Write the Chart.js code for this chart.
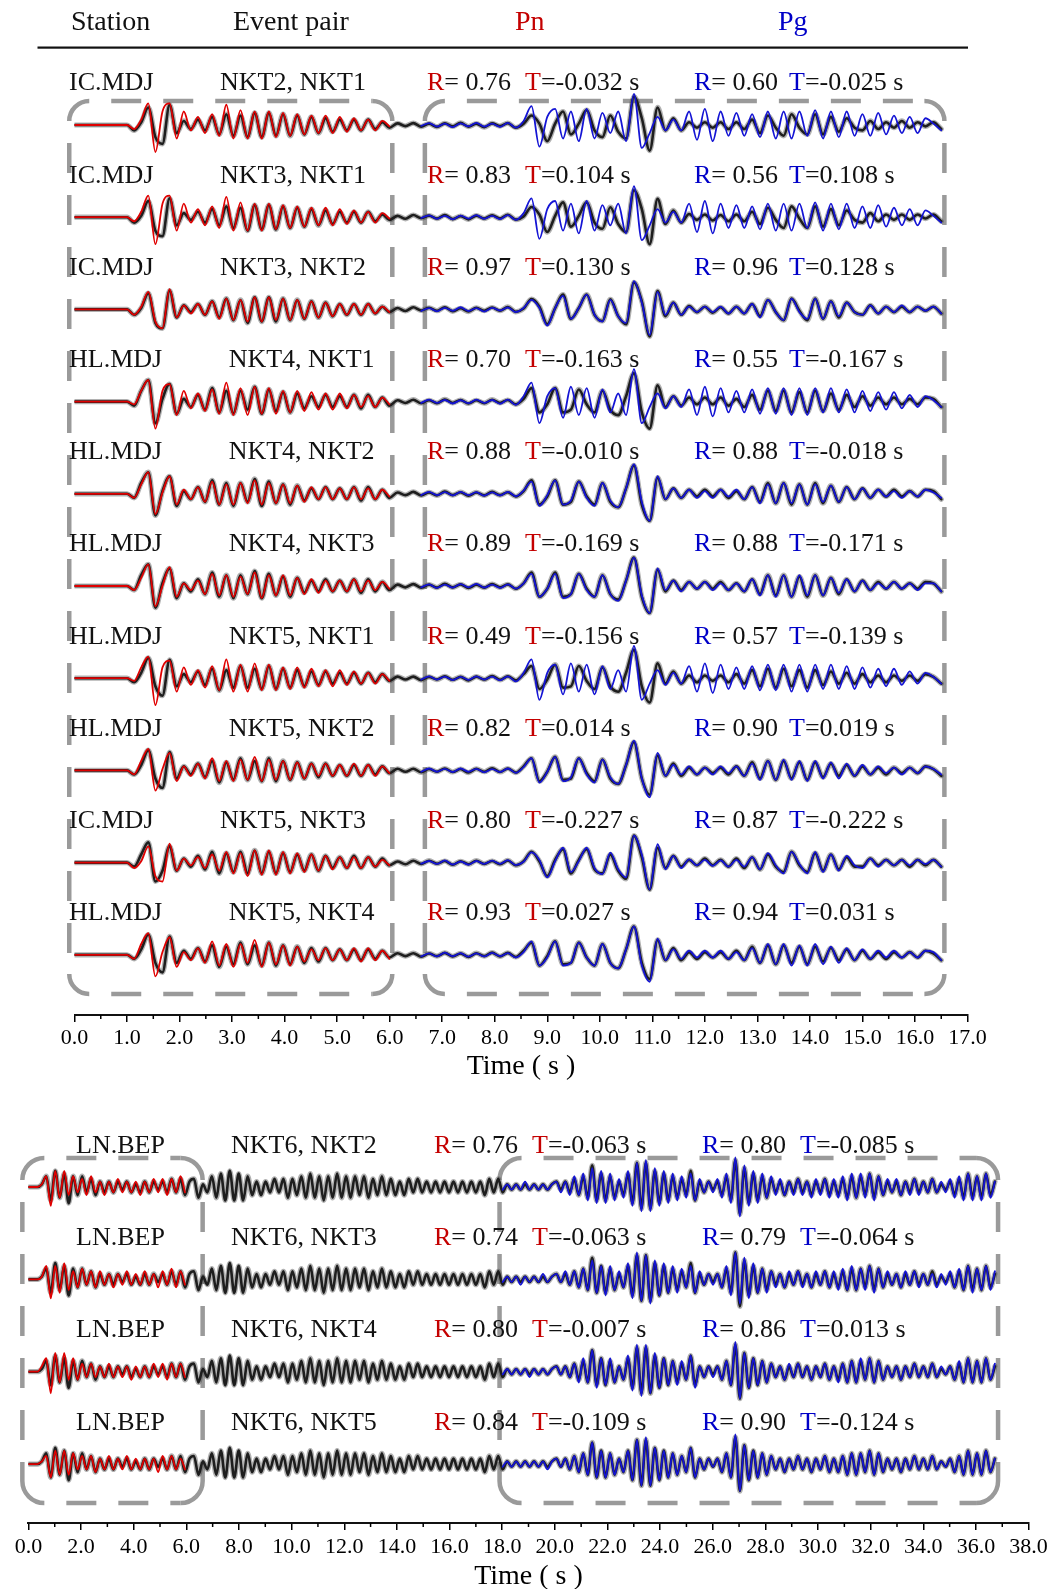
<!DOCTYPE html>
<html><head><meta charset="utf-8">
<script src="https://cdn.jsdelivr.net/npm/chart.js@4.4.1/dist/chart.umd.min.js"></script>
<style>
html,body{margin:0;padding:0;background:#fff;}
body{width:1063px;height:1589px;position:relative;overflow:hidden;}
#top{position:absolute;left:0;top:0;width:1063px;height:1085px;}
#bot{position:absolute;left:0;top:1095px;width:1063px;height:494px;}
</style></head><body>
<canvas id="top" width="1063" height="1085"></canvas>
<canvas id="bot" width="1063" height="494"></canvas>
<script>
// ---------------- DATA: top panel (MDJ) ----------------
const TOP_STATIONS = ['IC.MDJ','IC.MDJ','IC.MDJ','HL.MDJ','HL.MDJ','HL.MDJ','HL.MDJ','HL.MDJ','IC.MDJ','HL.MDJ'];
const TOP_PAIRS = ['NKT2, NKT1','NKT3, NKT1','NKT3, NKT2','NKT4, NKT1','NKT4, NKT2','NKT4, NKT3','NKT5, NKT1','NKT5, NKT2','NKT5, NKT3','NKT5, NKT4'];
const TOP_PN_R = ['0.76','0.83','0.97','0.70','0.88','0.89','0.49','0.82','0.80','0.93'];
const TOP_PN_T = ['-0.032','0.104','0.130','-0.163','-0.010','-0.169','-0.156','0.014','-0.227','0.027'];
const TOP_PG_R = ['0.60','0.56','0.96','0.55','0.88','0.88','0.57','0.90','0.87','0.94'];
const TOP_PG_T = ['-0.025','0.108','0.128','-0.167','-0.018','-0.171','-0.139','0.019','-0.222','0.031'];
// which record is drawn black (first event) and coloured (second event) in each row
const TOP_BLACK = ['NKT2_IC','NKT3_IC','NKT3_IC','NKT4_HL','NKT4_HL','NKT4_HL','NKT5_HL','NKT5_HL','NKT5_IC','NKT5_HL'];
const TOP_COLOR = ['NKT1_IC','NKT1_IC','NKT2_IC','NKT1_HL','NKT2_HL','NKT3_HL','NKT1_HL','NKT2_HL','NKT3_IC','NKT4_HL'];
const TOP_TICKS = [0,1,2,3,4,5,6,7,8,9,10,11,12,13,14,15,16,17];

// sampling of the top records (s): one sample at 0, Pn part from 1.0 s, Pg part from 6.15 s
const TOP_PN_START = 1.0, TOP_PN_STEP = 0.135, TOP_PN_N = 38;
const TOP_PG_START = 6.15, TOP_PG_STEP = 0.15, TOP_PG_N = 70;

// amplitudes (relative units): Pn part (39) and Pg part (70)
const NKT1_IC_PN = [0, 0,-1.5,2,8,-10,5,8,-5,5,-2, 3,-3,4,-4,7.5,-5,5.5,-5,5,-5, 5,-4.5,4.5,-4,4,-3.5,3.5,-3,3.5,-3, 3,-2.5,2.5,-2,2,-2,1.5,-0.5];
const NKT1_IC_PG = [0.5,-0.5,0.6,-0.3,0.7,-0.6,0.5,-0.8,0.6,-0.5, 0.8,-0.6,0.5,-0.7,0.8,-1,1.5,7,-8,3, 6,-5,5,-6,6,-5,4.5,-3,5,-6, 11.5,-8.5,-3,3,-2,2, -2,5,-5.5,6,-6,5,-4,4.5,-4,4, -4.5,5,-5,5,-5,5,-4,5.5,-5,5, -4.5,5,-4,4,-4,4.5,-3.5,3.5,-3,3, -3,2.5,0.5,-2];
const NKT1_HL_PN = [0, 0,-1,4,8,-10,4,6.5,-5,4,-2.5, 3,-3.5,4.5,-4.5,7,-5,5,-5,5.5,-4.5, 5,-4.5,4,-4,4,-3.5,3.5,-3,3,-3, 3,-2.5,2.5,-2,2,-2,1.5,-1];
const NKT1_HL_PG = [0.6,-0.4,0.5,-0.5,0.7,-0.5,0.6,-0.7,0.5,-0.6, 0.7,-0.5,0.6,-0.8,0.7,-1.2,2,7,-8,2, 5,-6,5.5,-5,5,-6,4.5,-4,3,-5, 12,-8,-2,3,-2.5,2, -2,4.5,-5,5.5, -5.5,5,-4,4,-4,4.5,-4.5,5,-4.5,5, -5,5,-5,5,-4,5,-4,4.5,-4,4, -3.5,3.5,-3,3.5,-2.5,2.5,-2,2,0.5,-2];
const NKT2_IC_PN = [0, 0,-2,1,6.5,-4.5,-7,7.5,-3,1.5,-1.5, 2,-2,3,-3.5,4,-4,3.5,-4.5,4.5,-4.5, 4.5,-4,4,-4,3.5,-3.5,3,-3,2.5,-2.5, 2,-2,2,-2,2,-1.5,1,-1];
const NKT2_IC_PG = [0.6,-0.4,0.7,-0.6,0.5,-0.7,0.6,-0.5,0.8,-0.6, 0.5,-0.8,0.6,-0.4,0.7,-1,0.5,3.5,0.5,-6, 0.5,5,-3.5,0.5,5.5,-2,-4.5,3.5,-2.5,-5, 10.5,2.5,-9.5,6.5,-2,2.5,-2,1,-1,1, -1,1,-1.5,1,-1.5,2,-3,3.5,-1,-4, 4,-1,-3.5,4,-3.5,3,-2.5,2.5,-1,-2, 1.5,-1.5,1,-1,1.5,-1,1,-0.5,1,-1.5];
const NKT2_HL_PN = [0, 0,-1.5,3.5,8,-7.5,0.5,6.5,-4,1.5,-2, 2.5,-3,4.5,-4,3.5,-4,4,-3.5,5,-4, 4,-3.5,3.5,-3.5,3,-3,2.5,-2,2.5,-2, 2,-2,2.5,-2,2,-2,1.5,-1];
const NKT2_HL_PG = [0.5,-0.6,0.6,-0.5,0.7,-0.5,0.6,-0.6,0.7,-0.5, 0.6,-0.7,0.5,-0.6,0.7,-0.9,1.2,4.5,-4.5,-0.5, 5,-4,-2.5,4.5,-1.5,-4.5,4,-2.5,-5,2, 11,-3,-10,6.5,-2,2,-1.5,1.5,-1.5,1, -1.5,1.5,-1,1.5,-2,2.5,-3.5,3.5,-3.5,4, -3.5,3.5,-4,3.5,-3,3,-3,2.5,-2,2, -1.5,1.5,-1,1,-1.5,1,-1,1.5,0.5,-1.5];
const NKT3_IC_PN = [0, 0,-2,0.5,6,-5,-7,7,-3,1.5,-1, 2,-2,3,-3,4,-4,3.5,-5,4.5,-4.5, 4.5,-4.5,4,-4,3.5,-3.5,3,-3,2.5,-2.5, 2,-2,2,-2,2,-1.5,1,-1];
const NKT3_IC_PG = [0.5,-0.6,0.8,-0.4,0.6,-0.5,0.8,-0.7,0.4,-0.8, 0.6,-0.5,0.7,-0.5,0.9,-0.9,0.3,3.8,1,-5.5, 0.5,5.5,-3.5,0.5,5.5,-2,-4.3,3.7,-2.5,-5.5, 10,3,-10,6.8,-2.5,2.5,-2,1.2,-1,1, -1.2,0.8,-1.5,1,-1.5,2,-2.5,3.5,-1,-4, 4,-0.5,-4,4,-3.5,3,-3,2.5,-1,-2, 1.5,-1.5,1,-1,1,-1,1,-0.5,1,-1.5];
const NKT3_HL_PN = [0, 0,-1.5,3,8,-7.5,0,7,-4,1,-1.5, 2,-3,4.5,-3.5,4,-4,3.5,-3,5,-4.5, 4,-3.5,4,-3.5,3,-3,2.5,-2.5,2,-2, 2,-2,2.5,-2,2,-1.5,1.5,-1];
const NKT3_HL_PG = [0.5,-0.7,0.6,-0.5,0.6,-0.7,0.5,-0.6,0.7,-0.5, 0.8,-0.6,0.5,-0.7,0.6,-1,1,4.5,-4,-1, 4.5,-4.5,-3,4.5,-1.5,-4,4,-3,-5.5,2, 10.5,-3.5,-10,6.5,-1.5,2,-2,1.5,-1,1.5, -1.5,1,-1.5,1,-2,2.5,-3.5,4,-4,4, -4,4,-3.5,4,-3.5,3,-2.5,2.5,-2,2, -1.5,1,-1,1.5,-1,1,-1.5,1,1,-2];
const NKT4_HL_PN = [0, 0,-1.5,4,8,-8,1,6.5,-4.5,1,-2, 2.5,-3,5,-4,4,-4.5,4,-3,5.5,-4.5, 4.5,-3.5,3.5,-4,3,-2.5,2,-2,2.5,-2, 2,-2,2.5,-2.5,2.5,-2,1.5,-1.5];
const NKT4_HL_PG = [0.5,-0.5,0.7,-0.6,0.5,-0.6,0.8,-0.5,0.6,-0.7, 0.5,-0.6,0.7,-0.5,0.6,-1,1,5,-4,-1, 5,-4,-3,4.5,-1,-4,4,-3,-5,2, 10.5,-4,-10,6,-2,2,-1.5,1.5,-1,1.5, -1,1.5,-1.5,1,-2,2.5,-3,4,-3.5,4, -4,3.5,-4,4,-3.5,3,-3,2.5,-2,2, -1.5,1.5,-1,1.5,-1,1,-1,1.5,1,-2];
const NKT5_HL_PN = [0, 0,-1.5,2,7.5,-3,-6.5,6.8,-3,1.5,-1.5, 2.5,-2.5,3.5,-4.5,3,-3.5,4.5,-3.5,3.5,-4, 4.5,-4,3.5,-3.5,3,-3,2.5,-2.5,2.5,-2, 2,-2,2,-2,2,-1.5,1.5,-1];
const NKT5_HL_PG = [0.6,-0.5,0.6,-0.7,0.5,-0.5,0.7,-0.6,0.5,-0.8, 0.6,-0.5,0.8,-0.6,0.7,-0.8,1.5,4.5,-4,-0.5, 5,-3.5,-3,4.5,-1,-4, 4,-3,-5,2,10.5,-3,-9,5.5, -2,2.5,-2,1,-1.5,1, -1,1,-1.5,1.5,-2,3,-3,3.5,-3.5,3.5, -3,3,-3.5,3,-2.5,2.5,-2,2,-2,1.5, -1.5,1,-1.5,1,-1,1,-1,1.5,0.5,-2];
const NKT5_IC_PN = [0, 0,-1.5,3,7.5,-7,-3,6,-3,1.5,-1.5, 2.5,-2.5,4,-4,3.5,-3.5,4,-4,4.5,-4, 4,-4,3.5,-3.5,3,-3,3,-3,2.5,-2, 2,-2,2.5,-2,2,-1.5,1.5,-1];
const NKT5_IC_PG = [0.4,-0.6,0.7,-0.5,0.7,-0.4,0.6,-0.8,0.5,-0.6, 0.7,-0.5,0.6,-0.6,0.8,-1, 0.5,4,0.5,-5, 1,5,-4,1,5,-2.5,-4,3,-3,-6, 10,2,-10,5.5, -2,2.5,-1.5,1,-1,1.5, -1,1,-1.5,1.5,-2,2,-2.5,3,-1.5,-3.5, 4,-1,-3.5,3.5,-3,3,-2.5,2,-1.5,-1.5, 1.5,-1,1,-1,1,-1.5,1,-1,1,-1.5];

// ---------------- DATA: bottom panel (LN.BEP) ----------------
const BOT_STATIONS = ['LN.BEP','LN.BEP','LN.BEP','LN.BEP'];
const BOT_PAIRS = ['NKT6, NKT2','NKT6, NKT3','NKT6, NKT4','NKT6, NKT5'];
const BOT_PN_R = ['0.76','0.74','0.80','0.84'];
const BOT_PN_T = ['-0.063','-0.063','-0.007','-0.109'];
const BOT_PG_R = ['0.80','0.79','0.86','0.90'];
const BOT_PG_T = ['-0.085','-0.064','0.013','-0.124'];
const BOT_TICKS = [0,2,4,6,8,10,12,14,16,18,20,22,24,26,28,30,32,34,36,38];
const BOT_STEP = 0.17, BOT_N = 217;
// NKT6 (black, shared by all rows), 217 samples
const BEP_NKT6 = [0,0,0,1,4,-5,6,-4,5,-6, 4,-3,4,-2,3,-3,2,-2,2,-2, 2,-1,2,-2,1,-2,2,-2,2,-1, 2,-2,3,-2,3,-3,
 2,3,-4,1, -2,4,-4,5,-5,6,-5,5,-5,4, -3,2,-3,2,-2,3,-2,3,-4,3, -3,4,-4,5,-4,4,-5,4,-4,5, -4,4,-4,4,-3,4,-4,3,-3,4, -3,3,-3,2,-3,3,-2,3,-2,2, -2,2,-2,2,-2,2,-2,2,-2,2, -2,2,-3,3,-2,3,
 -2,1,-1,1,-1,1,-1,1,-1,1,-1,1, 2,-1,2,-2,3,-3,4,-4,8,-5, 5,-5,4,-4,2,-3,5,-6,9,-8, 9,-8,6,-6,5,-5,4,-4,3,-3, 6,-5,2,-2,2,-1,2,-3,4,-5, 10,-10,7,-6,5,-5,4,-4,3,-2, 2,-3,2,-2,3,-2,2,-3,2,-2, 3,-3,2,-3,3,-4,4,-4,4,-3, 5,-4,4,-3,2,-2,2,-3,2,-2, 3,-2,2,-2,3,-2,1,-1,2,-3, 3,-4,5,-4,4,-4,5,-3,2];
// coloured records: Pn window (first 36 samples) and Pg window (samples from 18.0 s, 111 values)
const BEP_PN_NKT2 = [0,0,0,1,4,-7,6,-4,6,-3, 4,-2,3,-3,4,-2,2,-3,2,-2, 3,-2,2,-2,2,-3,2,-2,3,-2, 3,-3,3,-2,4,-2];
const BEP_PN_NKT3 = [0,0,0,1,5,-7,5,-5,6,-4, 3,-3,4,-2,3,-3,3,-2,2,-3, 2,-2,3,-2,2,-2,3,-2,2,-3, 3,-2,4,-3,3,-2];
const BEP_PN_NKT4 = [0,0,0,2,5,-8,7,-4,7,-3, 5,-3,3,-2,3,-2,2,-2,3,-2, 2,-2,2,-3,2,-2,2,-2,3,-2, 3,-3,3,-2,3,-2];
const BEP_PN_NKT5 = [0,0,0,1,3,-5,5,-4,5,-4, 4,-2,3,-2,3,-3,2,-2,3,-2, 2,-2,3,-2,2,-2,2,-2,2,-3, 3,-2,3,-2,2,-2];
const BEP_PG_NKT2 = [-1,1,-1,1,-1,2,-1,1,-1,1,-1,1, 2,-2,2,-3,4,-3,5,-5,7,-6, 6,-6,5,-5,3,-4,6,-7,9,-9, 10,-9,7,-7,6,-6,5,-5,4,-4, 5,-5,3,-2,2,-2,3,-4,5,-6, 11,-11,8,-7,6,-6,5,-4,4,-3, 3,-3,2,-3,3,-3,2,-4,3,-3, 3,-4,3,-4,4,-5,5,-4,5,-4, 5,-5,4,-3,3,-2,3,-3,2,-3, 3,-3,2,-2,3,-2,2,-2,3,-4, 4,-5,5,-5,4,-5,5,-4,2];
const BEP_PG_NKT3 = [-1,1,-1,1,-2,1,-1,1,-1,2,-1,1, 2,-1,3,-2,3,-3,4,-4,7,-5, 5,-6,5,-4,3,-3,6,-7,10,-8, 9,-9,7,-6,6,-5,5,-5,4,-3, 5,-5,3,-2,2,-2,2,-3,5,-6, 10,-9,8,-7,6,-5,4,-5,3,-3, 2,-3,3,-2,3,-3,2,-3,3,-2, 3,-3,3,-4,4,-4,5,-4,4,-4, 5,-5,4,-3,3,-2,2,-3,3,-2, 3,-3,2,-2,2,-3,2,-2,3,-3, 4,-4,5,-5,4,-4,5,-4,3];
const BEP_PG_NKT4 = [-1,1,-1,1,-1,1,-2,1,-1,1,-1,1, 2,-1,2,-2,3,-4,5,-4,8,-6, 5,-5,5,-4,2,-3,6,-7,10,-9, 10,-8,7,-6,5,-5,4,-5,4,-3, 6,-6,2,-2,2,-2,2,-3,4,-5, 11,-10,7,-6,5,-5,4,-4,3,-2, 2,-3,3,-2,3,-2,2,-3,2,-2, 3,-3,2,-4,3,-4,4,-4,5,-3, 5,-4,4,-3,2,-2,2,-3,2,-2, 3,-2,2,-2,3,-2,2,-1,2,-3, 4,-4,5,-4,4,-4,5,-3,3];
const BEP_PG_NKT5 = [-1,1,-1,1,-1,1,-1,1,-1,1,-2,1, 2,-1,2,-2,3,-3,4,-4,8,-5, 5,-5,4,-4,2,-3,5,-6,9,-8, 10,-8,6,-6,5,-5,4,-4,3,-3, 6,-5,2,-2,2,-1,2,-3,4,-5, 11,-10,7,-6,5,-5,4,-4,3,-2, 2,-3,2,-2,3,-2,2,-3,2,-2, 3,-3,2,-3,3,-4,4,-4,4,-3, 5,-4,4,-3,2,-2,2,-3,2,-2, 3,-2,2,-2,3,-2,1,-1,2,-3, 3,-4,5,-4,4,-4,5,-3,2];
const BOT_RED = [BEP_PN_NKT2, BEP_PN_NKT3, BEP_PN_NKT4, BEP_PN_NKT5];
const BOT_BLUE = [BEP_PG_NKT2, BEP_PG_NKT3, BEP_PG_NKT4, BEP_PG_NKT5];

// ---------------- styling / layout ----------------
const FONT = '"Liberation Serif","Times New Roman",Times,serif';
const RED_TXT = '#c40000', BLUE_TXT = '#0000c8', TXT = '#111';
const RED_LINE = '#e00000', BLUE_LINE = '#1414d4', BLACK_LINE = '#1e1e1e', HALO = 'rgba(70,70,70,0.42)';
const BOX_COLOR = '#9a9a9a', BOX_LW = 4.5, DASH = [30, 22];
const AMP_PX = 2.7;

const WAVES_TOP = {
  NKT1_IC: [NKT1_IC_PN, NKT1_IC_PG], NKT1_HL: [NKT1_HL_PN, NKT1_HL_PG],
  NKT2_IC: [NKT2_IC_PN, NKT2_IC_PG], NKT2_HL: [NKT2_HL_PN, NKT2_HL_PG],
  NKT3_IC: [NKT3_IC_PN, NKT3_IC_PG], NKT3_HL: [NKT3_HL_PN, NKT3_HL_PG],
  NKT4_HL: [NKT4_HL_PN, NKT4_HL_PG], NKT5_HL: [NKT5_HL_PN, NKT5_HL_PG],
  NKT5_IC: [NKT5_IC_PN, NKT5_IC_PG]
};
const TOP_T = [0];
for (let k = 0; k < TOP_PN_N; k++) TOP_T.push(+(TOP_PN_START + k * TOP_PN_STEP).toFixed(4));
for (let k = 0; k < TOP_PG_N; k++) TOP_T.push(+(TOP_PG_START + k * TOP_PG_STEP).toFixed(4));
const BOT_T = [];
for (let k = 0; k < BOT_N; k++) BOT_T.push(+(k * BOT_STEP).toFixed(4));

const TOP_ROW = 92.2, TOP_TEXT_RISE = 34.6;
const BOT_ROW = 92.35, BOT_TEXT_RISE = 34.3;
const TOP_BOXES = [[-0.1, 6.05, 24, -869], [6.67, 16.56, 24, -869]];
const BOT_BOXES = [[-0.23, 6.62, 29, -316], [17.9, 36.84, 29, -316]];

Chart.defaults.font.family = FONT;
Chart.defaults.color = '#000';

function pts(times, vals, off, tmin, tmax) {
  const out = [];
  const n = Math.min(times.length, vals.length);
  for (let k = 0; k < n; k++) {
    const t = times[k];
    if (t < tmin - 1e-9 || t > tmax + 1e-9) continue;
    out.push({x: t, y: vals[k] * AMP_PX - off});
  }
  return out;
}
function lineDs(data, color, width, order) {
  return {data: data, borderColor: color, borderWidth: width, order: order};
}

function drawBox(ctx, xs, ys, b, r) {
  const x0 = xs.getPixelForValue(b[0]), x1 = xs.getPixelForValue(b[1]);
  const y0 = ys.getPixelForValue(b[2]), y1 = ys.getPixelForValue(b[3]);
  ctx.save();
  ctx.strokeStyle = BOX_COLOR; ctx.lineWidth = BOX_LW; ctx.lineCap = 'butt';
  ctx.setLineDash([]);
  ctx.beginPath();
  ctx.arc(x0 + r, y0 + r, r, Math.PI, 1.5 * Math.PI);
  ctx.moveTo(x1 - r, y0); ctx.arc(x1 - r, y0 + r, r, 1.5 * Math.PI, 2 * Math.PI);
  ctx.moveTo(x1, y1 - r); ctx.arc(x1 - r, y1 - r, r, 0, 0.5 * Math.PI);
  ctx.moveTo(x0 + r, y1); ctx.arc(x0 + r, y1 - r, r, 0.5 * Math.PI, Math.PI);
  ctx.stroke();
  ctx.setLineDash(DASH); ctx.lineDashOffset = DASH[0];
  const seg = (ax, ay, bx, by) => { ctx.beginPath(); ctx.moveTo(ax, ay); ctx.lineTo(bx, by); ctx.stroke(); };
  seg(x0 + r, y0, x1 - r, y0);
  seg(x1, y0 + r, x1, y1 - r);
  seg(x0 + r, y1, x1 - r, y1);
  seg(x0, y0 + r, x0, y1 - r);
  ctx.restore();
}
function colorPair(ctx, x, y, letter, rest, col) {
  ctx.fillStyle = col; ctx.fillText(letter, x, y);
  const w = ctx.measureText(letter).width;
  ctx.fillStyle = TXT; ctx.fillText(rest, x + w, y);
}
function drawRowText(ctx, y, pos, station, pair, rPn, tPn, rPg, tPg) {
  ctx.save();
  ctx.font = '26px ' + FONT; ctx.textBaseline = 'alphabetic'; ctx.textAlign = 'left';
  ctx.fillStyle = TXT;
  ctx.fillText(station, pos.station, y);
  const px = pos.pair !== undefined ? pos.pair : pos.station + ctx.measureText(station).width + pos.gap;
  ctx.fillText(pair, px, y);
  colorPair(ctx, pos.pnR, y, 'R', '= ' + rPn, RED_TXT);
  colorPair(ctx, pos.pnT, y, 'T', '=' + tPn + ' s', RED_TXT);
  colorPair(ctx, pos.pgR, y, 'R', '= ' + rPg, BLUE_TXT);
  colorPair(ctx, pos.pgT, y, 'T', '=' + tPg + ' s', BLUE_TXT);
  ctx.restore();
}
function minorTicks(ctx, xs, vals) {
  const y0 = xs.top;
  ctx.save(); ctx.strokeStyle = '#000'; ctx.lineWidth = 1.5;
  vals.forEach(v => { const x = xs.getPixelForValue(v); ctx.beginPath(); ctx.moveTo(x, y0); ctx.lineTo(x, y0 + 4); ctx.stroke(); });
  ctx.restore();
}
function xAxis(min, max, step, ticksPad, titlePadBottom, titleLH, height) {
  return {
    type: 'linear', position: 'bottom', min: min, max: max,
    ticks: {stepSize: step, autoSkip: false, maxRotation: 0, padding: ticksPad, color: '#000',
            font: {family: FONT, size: 22}, callback: v => Number(v).toFixed(1)},
    grid: {display: true, drawOnChartArea: false, drawTicks: true, tickLength: 7, color: '#000', lineWidth: 1.5},
    border: {display: true, color: '#111', width: 2},
    title: {display: true, text: 'Time ( s )', color: '#000', font: {family: FONT, size: 28, lineHeight: titleLH},
            padding: {top: 0, bottom: titlePadBottom}},
    afterFit: s => { s.height = height; }
  };
}
const commonOpts = {
  responsive: false, animation: false, devicePixelRatio: 1, maintainAspectRatio: false,
  plugins: {legend: {display: false}, tooltip: {enabled: false}},
  events: [],
  datasets: {line: {pointRadius: 0, fill: false, cubicInterpolationMode: 'monotone', borderJoinStyle: 'round', borderCapStyle: 'round'}}
};

// ---------------- top chart ----------------
const topDatasets = [];
for (let i = 0; i < TOP_STATIONS.length; i++) {
  const off = i * TOP_ROW;
  const bw = WAVES_TOP[TOP_BLACK[i]], cw = WAVES_TOP[TOP_COLOR[i]];
  const bv = bw[0].concat(bw[1]), cv = cw[0].concat(cw[1]);
  topDatasets.push(lineDs(pts(TOP_T, bv, off, 0, 16.5), HALO, 5.2, 4));
  topDatasets.push(lineDs(pts(TOP_T, bv, off, 0, 16.5), BLACK_LINE, 2.6, 3));
  topDatasets.push(lineDs(pts(TOP_T, cv, off, 0, 6.0), RED_LINE, 1.8, 1));
  topDatasets.push(lineDs(pts(TOP_T, cv, off, 6.6, 16.5), BLUE_LINE, 1.8, 1));
}
const TOP_POS = {station: 69, gap: 66.5, pnR: 427, pnT: 525, pgR: 694, pgT: 789};
const topDecor = {
  id: 'topDecor',
  beforeDatasetsDraw(chart) {
    const ctx = chart.ctx, xs = chart.scales.x, ys = chart.scales.y;
    TOP_BOXES.forEach(b => drawBox(ctx, xs, ys, b, 20));
    ctx.save();
    ctx.font = '28px ' + FONT; ctx.textBaseline = 'alphabetic';
    ctx.fillStyle = TXT; ctx.fillText('Station', 71, 30); ctx.fillText('Event pair', 233, 30);
    ctx.fillStyle = RED_TXT; ctx.fillText('Pn', 515, 30);
    ctx.fillStyle = BLUE_TXT; ctx.fillText('Pg', 778, 30);
    ctx.fillStyle = '#111'; ctx.fillRect(37.5, 46.5, 930.5, 2.2);
    ctx.restore();
    for (let i = 0; i < TOP_STATIONS.length; i++) {
      const y = ys.getPixelForValue(TOP_TEXT_RISE - i * TOP_ROW);
      drawRowText(ctx, y, TOP_POS, TOP_STATIONS[i], TOP_PAIRS[i], TOP_PN_R[i], TOP_PN_T[i], TOP_PG_R[i], TOP_PG_T[i]);
    }
  },
  afterDraw(chart) {
    const minors = TOP_TICKS.slice(0, -1).map(v => v + 0.5);
    minorTicks(chart.ctx, chart.scales.x, minors);
  }
};
new Chart(document.getElementById('top'), {
  type: 'line',
  data: {datasets: topDatasets},
  options: Object.assign({}, commonOpts, {
    layout: {padding: {left: 74.5, right: 95.5, top: 0, bottom: 0}},
    scales: {
      x: xAxis(TOP_TICKS[0], TOP_TICKS[TOP_TICKS.length - 1], 1, 2.8, 1.8, 1.2, 70),
      y: {type: 'linear', display: false, min: -890, max: 125}
    }
  }),
  plugins: [topDecor]
});

// ---------------- bottom chart ----------------
const botDatasets = [];
const pgStart = BOT_T.findIndex(t => t >= 18 - 1e-9);
for (let i = 0; i < BOT_STATIONS.length; i++) {
  const off = i * BOT_ROW;
  botDatasets.push(lineDs(pts(BOT_T, BEP_NKT6, off, 0, 40), HALO, 5.2, 4));
  botDatasets.push(lineDs(pts(BOT_T, BEP_NKT6, off, 0, 40), BLACK_LINE, 2.6, 3));
  botDatasets.push(lineDs(pts(BOT_T, BOT_RED[i], off, 0, 6.0), RED_LINE, 1.8, 1));
  botDatasets.push(lineDs(pts(BOT_T.slice(pgStart), BOT_BLUE[i], off, 18, 40), BLUE_LINE, 1.8, 1));
}
const BOT_POS = {station: 76, pair: 231, pnR: 434, pnT: 532, pgR: 702, pgT: 800};
const botDecor = {
  id: 'botDecor',
  beforeDatasetsDraw(chart) {
    const ctx = chart.ctx, xs = chart.scales.x, ys = chart.scales.y;
    BOT_BOXES.forEach(b => drawBox(ctx, xs, ys, b, 22));
    for (let i = 0; i < BOT_STATIONS.length; i++) {
      const y = ys.getPixelForValue(BOT_TEXT_RISE - i * BOT_ROW);
      drawRowText(ctx, y, BOT_POS, BOT_STATIONS[i], BOT_PAIRS[i], BOT_PN_R[i], BOT_PN_T[i], BOT_PG_R[i], BOT_PG_T[i]);
    }
  },
  afterDraw(chart) {
    const minors = BOT_TICKS.slice(0, -1).map(v => v + 1);
    minorTicks(chart.ctx, chart.scales.x, minors);
  }
};
new Chart(document.getElementById('bot'), {
  type: 'line',
  data: {datasets: botDatasets},
  options: Object.assign({}, commonOpts, {
    layout: {padding: {left: 28.4, right: 34.4, top: 0, bottom: 0}},
    scales: {
      x: xAxis(BOT_TICKS[0], BOT_TICKS[BOT_TICKS.length - 1], 2, 3.8, 0, 0.857, 66),
      y: {type: 'linear', display: false, min: -336, max: 92}
    }
  }),
  plugins: [botDecor]
});
</script></body></html>
